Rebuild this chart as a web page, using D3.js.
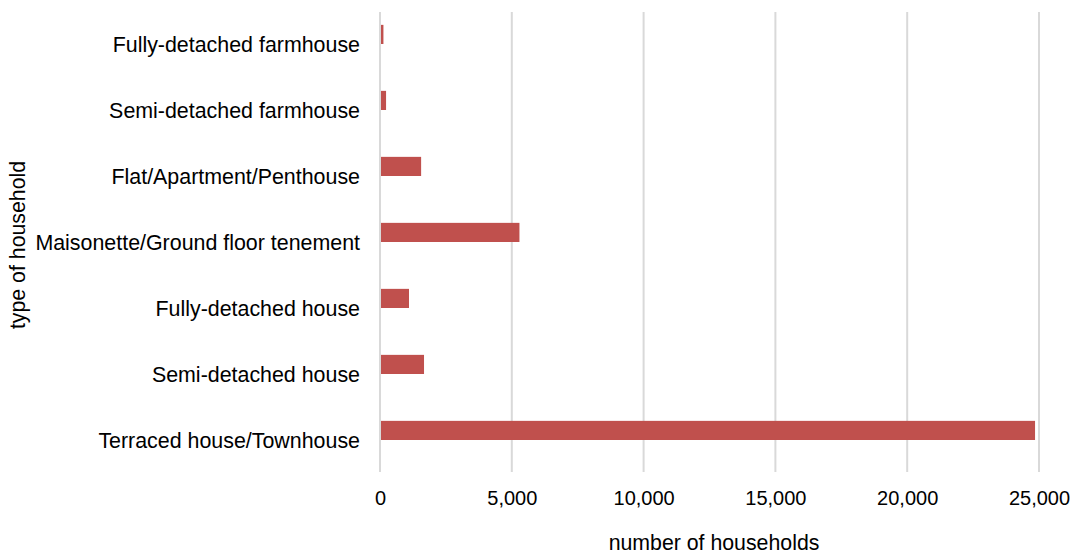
<!DOCTYPE html>
<html>
<head>
<meta charset="utf-8">
<script src="https://cdn.jsdelivr.net/npm/d3@7"></script>
<style>
  html, body { margin: 0; padding: 0; background: #ffffff; }
  svg { display: block; }
  text { font-family: "Liberation Sans", Arial, Helvetica, sans-serif; fill: #000; }
</style>
</head>
<body>
<svg id="chart" width="1076" height="554"></svg>
<script>
const categories = [
  "Fully-detached farmhouse",
  "Semi-detached farmhouse",
  "Flat/Apartment/Penthouse",
  "Maisonette/Ground floor tenement",
  "Fully-detached house",
  "Semi-detached house",
  "Terraced house/Townhouse"
];
const households = [130, 230, 1560, 5290, 1100, 1670, 24850];
const xTicks = [0, 5000, 10000, 15000, 20000, 25000];
const xTitle = "number of households";
const yTitle = "type of household";

const svg = d3.select("#chart");
const x = d3.scaleLinear().domain([0, 25000]).range([380, 1039]);
const y = d3.scaleBand().domain(categories).range([11, 473]).padding(0);
const bw = y.bandwidth();
const barH = bw * 0.29;

// gridlines
svg.append("g").selectAll("line").data(xTicks).join("line")
  .attr("x1", d => x(d)).attr("x2", d => x(d))
  .attr("y1", 12).attr("y2", 472)
  .attr("stroke", "#d9d9d9").attr("stroke-width", 2);

// bars
svg.append("g").selectAll("rect").data(categories).join("rect")
  .attr("x", x(0) + 1)
  .attr("y", d => y(d) + bw / 2 - barH)
  .attr("width", (d, i) => x(households[i]) - x(0) - 1)
  .attr("height", barH)
  .attr("fill", "#c0504d");

// category labels
const yAxis = svg.append("g").attr("transform", "translate(360,0)")
  .call(d3.axisLeft(y).tickSize(0).tickPadding(0));
yAxis.select(".domain").remove();
yAxis.selectAll("text").style("font-size", "21.4px").attr("dy", "0.36em");

// x tick labels
const xAxis = svg.append("g").attr("transform", "translate(0,491)")
  .call(d3.axisBottom(x).tickValues(xTicks).tickFormat(d3.format(",")).tickSize(0).tickPadding(0));
xAxis.select(".domain").remove();
xAxis.selectAll("text").style("font-size", "20px").attr("dy", "0.71em");

// axis titles
svg.append("text").attr("x", 714).attr("y", 550)
  .attr("text-anchor", "middle").style("font-size", "21.3px").text(xTitle);
svg.append("text").attr("transform", "translate(25,245) rotate(-90)")
  .attr("text-anchor", "middle").style("font-size", "21.3px").text(yTitle);
</script>
</body>
</html>
